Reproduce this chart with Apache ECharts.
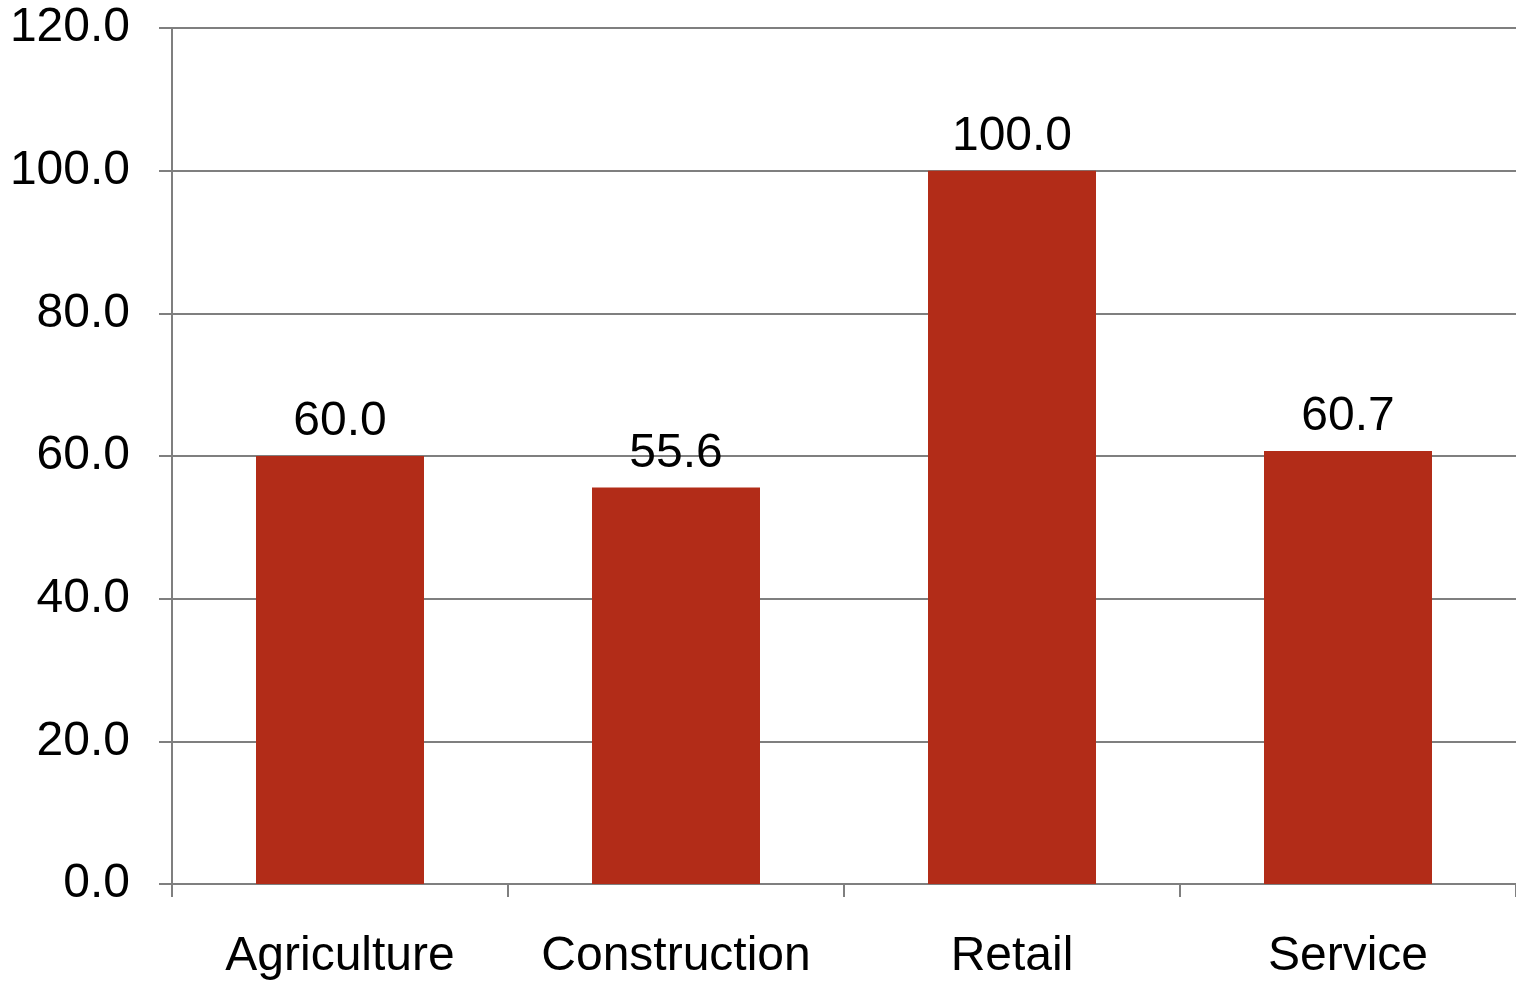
<!DOCTYPE html>
<html>
<head>
<meta charset="utf-8">
<script src="https://cdn.jsdelivr.net/npm/echarts@6/dist/echarts.min.js"></script>
<style>
  html, body { margin: 0; padding: 0; background: #fff; }
  #chart { width: 1516px; height: 981px; }
</style>
</head>
<body>
<div id="chart"></div>
<script>
const categories = ["Agriculture", "Construction", "Retail", "Service"];
const values = [60.0, 55.6, 100.0, 60.7];

const lineColor = "#7f7f7f";
const font = "Liberation Sans, Arial, sans-serif";

const chart = echarts.init(document.getElementById("chart"), null, { renderer: "canvas" });

chart.setOption({
  animation: false,
  grid: { left: 172, right: -3, top: 28, bottom: 97, containLabel: false },
  xAxis: {
    type: "category",
    data: categories,
    boundaryGap: true,
    axisLine: { lineStyle: { color: lineColor, width: 2 } },
    axisTick: { show: true, interval: 0, length: 13, lineStyle: { color: lineColor, width: 2 } },
    axisLabel: { interval: 0, color: "#000", fontFamily: font, fontSize: 48, margin: 49 },
  },
  yAxis: {
    type: "value",
    min: 0,
    max: 120,
    interval: 20,
    axisLine: { show: true, lineStyle: { color: lineColor, width: 2 } },
    axisTick: { show: true, length: 13, lineStyle: { color: lineColor, width: 2 } },
    splitLine: { lineStyle: { color: lineColor, width: 2 } },
    axisLabel: {
      color: "#000",
      fontFamily: font,
      fontSize: 48,
      margin: 42,
      padding: [7, 0, 0, 0],
      formatter: (v) => v.toFixed(1),
    },
  },
  series: [
    {
      type: "bar",
      data: values,
      barWidth: "50%",
      itemStyle: { color: "#B22C18" },
      label: {
        show: true,
        position: "top",
        distance: 10,
        color: "#000",
        fontFamily: font,
        fontSize: 48,
        formatter: (p) => p.value.toFixed(1),
      },
    },
  ],
});
</script>
</body>
</html>
